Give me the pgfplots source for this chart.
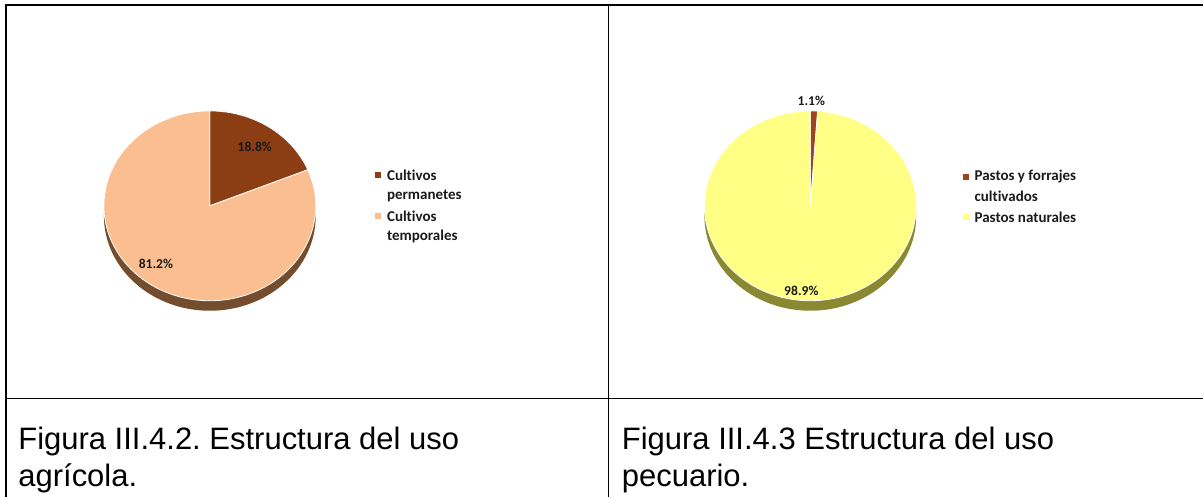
\documentclass[border=0pt]{standalone}
\usepackage{fontspec}
\usepackage{pgfplots}
\usepackage{pgfplotstable}
\pgfplotsset{compat=1.18}
\setmainfont{Liberation Sans}
\newfontfamily\calibri[RawFeature=-liga]{Carlito}

\definecolor{agridark}{HTML}{8B3E14}
\definecolor{agrilight}{HTML}{FABE91}
\definecolor{agriside}{HTML}{744D2F}
\definecolor{pecdark}{HTML}{A0441A}
\definecolor{peclight}{HTML}{FFFF85}
\definecolor{pecside}{HTML}{8A8833}
\definecolor{txt}{HTML}{1A1A1A}

% data (percent)
\pgfplotstableread{
label value
permanentes 18.8
temporales 81.2
}\agri
\pgfplotstableread{
label value
cultivados 1.1
naturales 98.9
}\pec
\pgfplotstablegetelem{0}{value}\of\agri \edef\agriA{\pgfplotsretval}
\pgfplotstablegetelem{1}{value}\of\agri \edef\agriB{\pgfplotsretval}
\pgfplotstablegetelem{0}{value}\of\pec \edef\pecA{\pgfplotsretval}
\pgfplotstablegetelem{1}{value}\of\pec \edef\pecB{\pgfplotsretval}

\begin{document}
\frenchspacing
\begin{tikzpicture}
\begin{axis}[
  x=0.5pt, y=0.5pt,
  xmin=0, xmax=1204, ymin=0, ymax=497,
  hide axis, clip=false, scale only axis,
]
\path (axis cs:0,0) rectangle (axis cs:1204,497);

% table rules
\draw[line width=1pt] (axis cs:5,492) -- (axis cs:1204,492);
\draw[line width=1pt] (axis cs:6,492) -- (axis cs:6,0);
\draw[line width=0.8pt] (axis cs:609,492) -- (axis cs:609,0);
\draw[line width=0.8pt] (axis cs:6,98) -- (axis cs:1204,98);

% ---- left pie (agricola) ----
\fill[agriside] (axis cs:210,281) ellipse[x radius=53pt, y radius=47.5pt];
\fill[agridark, draw=white, line width=0.4pt] (axis cs:210,291) -- ++(90:53pt and 47.5pt)
  arc[start angle=90, end angle={90-3.6*\agriA}, x radius=53pt, y radius=47.5pt] -- cycle;
\fill[agrilight, draw=white, line width=0.4pt] (axis cs:210,291) -- ++({90-3.6*\agriA}:53pt and 47.5pt)
  arc[start angle={90-3.6*\agriA}, end angle={90-3.6*(\agriA+\agriB)}, x radius=53pt, y radius=47.5pt] -- cycle;
\node[font=\calibri\bfseries\fontsize{6.8}{8}\selectfont, text=txt] at (axis cs:255,350) {18.8\%};
\node[font=\calibri\bfseries\fontsize{6.8}{8}\selectfont, text=txt] at (axis cs:156,233) {81.2\%};

% legend left
\fill[agridark] (axis cs:375,319) rectangle (axis cs:381,325);
\fill[agrilight] (axis cs:375,278) rectangle (axis cs:381,284);
\begin{scope}[every node/.style={anchor=west, inner sep=0pt, text=txt, font=\calibri\bfseries\fontsize{7.5}{9}\selectfont}]
\node at (axis cs:387,322) {Cultivos};
\node at (axis cs:387,301) {permanetes};
\node at (axis cs:387,281) {Cultivos};
\node at (axis cs:387,260) {temporales};
\end{scope}

% ---- right pie (pecuario) ----
\fill[pecside] (axis cs:811,281) ellipse[x radius=53pt, y radius=47.5pt];
\fill[pecdark, draw=white, line width=0.4pt] (axis cs:811,291) -- ++(90:53pt and 47.5pt)
  arc[start angle=90, end angle={90-3.6*\pecA}, x radius=53pt, y radius=47.5pt] -- cycle;
\fill[peclight, draw=white, line width=0.4pt] (axis cs:811,291) -- ++({90-3.6*\pecA}:53pt and 47.5pt)
  arc[start angle={90-3.6*\pecA}, end angle={90-3.6*(\pecA+\pecB)}, x radius=53pt, y radius=47.5pt] -- cycle;
\node[font=\calibri\bfseries\fontsize{6.8}{8}\selectfont, text=txt] at (axis cs:812,396) {1.1\%};
\node[font=\calibri\bfseries\fontsize{6.8}{8}\selectfont, text=txt] at (axis cs:802,206) {98.9\%};

% legend right
\fill[pecdark] (axis cs:964,317) rectangle (axis cs:970,323);
\fill[peclight] (axis cs:964,277) rectangle (axis cs:970,283);
\begin{scope}[every node/.style={anchor=west, inner sep=0pt, text=txt, font=\calibri\bfseries\fontsize{7.5}{9}\selectfont}]
\node at (axis cs:975,320) {Pastos y forrajes};
\node at (axis cs:975,301) {cultivados};
\node at (axis cs:975,280) {Pastos naturales};
\end{scope}

% captions
\begin{scope}[every node/.style={anchor=base west, inner sep=0pt, font=\fontsize{15.5}{18}\selectfont}]
\node at (axis cs:18,47) {Figura III.4.2. Estructura del uso};
\node at (axis cs:18,10) {agrícola.};
\node at (axis cs:622,47) {Figura III.4.3 Estructura del uso};
\node at (axis cs:622,10) {pecuario.};
\end{scope}
\end{axis}
\end{tikzpicture}
\end{document}
